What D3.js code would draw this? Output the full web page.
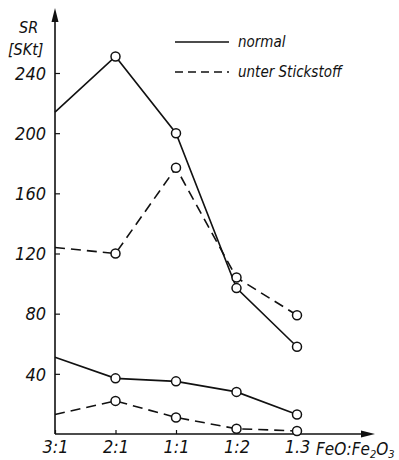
<!DOCTYPE html>
<html>
<head>
<meta charset="utf-8">
<script src="https://cdn.jsdelivr.net/npm/d3@7/dist/d3.min.js"></script>
<style>
  body { margin: 0; background: #fff; }
  text { font-family: "DejaVu Sans Condensed", "DejaVu Sans", sans-serif; font-style: italic; fill: #111; }
</style>
</head>
<body>
<svg id="chart" width="399" height="460"></svg>
<script>
// FeO:Fe2O3 ratios
var ratios = ["3:1", "2:1", "1:1", "1:2", "1:3"]
var ratioLabels = ["3:1", "2:1", "1:1", "1:2", "1.3"]

// SR values in SKt
var normalHigh = [214, 251, 200, 97, 58]
var nitrogenHigh = [124, 120, 177, 104, 79]
var normalLow = [51, 37, 35, 28, 13]
var nitrogenLow = [13, 22, 11, 3.5, 2]

var yTicks = [40, 80, 120, 160, 200, 240]

var svg = d3.select('#chart')

var x = d3.scalePoint()
    .domain(ratios)
    .range([55, 297])

var y = d3.scaleLinear()
    .domain([0, 240])
    .range([434, 73])

var ink = "#111"

// axes
var yAxis = svg.append("g")
    .attr("transform", "translate(55,0)")
    .call(d3.axisLeft(y).tickValues(yTicks).tickSize(-5).tickPadding(9))
yAxis.select(".domain").remove()
yAxis.selectAll("line").attr("stroke", ink).attr("stroke-width", 1.2)
yAxis.selectAll("text").attr("font-size", 18).attr("font-family", null).attr("dy", "0.35em")

var xAxis = svg.append("g")
    .attr("transform", "translate(0,434)")
    .call(d3.axisBottom(x).tickSize(-4).tickPadding(6).tickFormat(function(d, i) { return ratioLabels[i] }))
xAxis.select(".domain").remove()
xAxis.selectAll("line").attr("stroke", ink).attr("stroke-width", 1.2)
xAxis.selectAll("text").attr("font-size", 18).attr("font-family", null)

// axis lines with arrows
svg.append("line").attr("x1", 55).attr("x2", 55).attr("y1", 434).attr("y2", 18)
    .attr("stroke", ink).attr("stroke-width", 1.6)
svg.append("path").attr("d", "M55,8 L51.5,22 L58.5,22 Z").attr("fill", ink)
svg.append("line").attr("x1", 55).attr("x2", 366).attr("y1", 434).attr("y2", 434)
    .attr("stroke", ink).attr("stroke-width", 1.6)
svg.append("path").attr("d", "M375,434 L361,430.5 L361,437.5 Z").attr("fill", ink)

var xTitle = svg.append("text").attr("x", 316).attr("y", 455).attr("font-size", 17)
xTitle.append("tspan").text("FeO:Fe")
xTitle.append("tspan").attr("font-size", 11).attr("dy", 3).text("2")
xTitle.append("tspan").attr("dy", -3).text("O")
xTitle.append("tspan").attr("font-size", 11).attr("dy", 3).text("3")

svg.append("text").attr("x", 19).attr("y", 33).attr("font-size", 16).text("SR")
svg.append("text").attr("x", 8).attr("y", 55).attr("font-size", 16).text("[SKt]")

// series
var line = d3.line()
    .x(function(d, i) { return x(ratios[i]) })
    .y(function(d) { return y(d) })

var series = [
    { values: normalHigh, dash: null },
    { values: nitrogenHigh, dash: "10,6" },
    { values: normalLow, dash: null },
    { values: nitrogenLow, dash: "10,6" }
]

series.forEach(function(s) {
    svg.append("path")
        .attr("d", line(s.values))
        .attr("fill", "none")
        .attr("stroke", ink)
        .attr("stroke-width", 1.6)
        .attr("stroke-dasharray", s.dash)

    svg.append("g").selectAll("circle")
        .data(s.values.slice(1))
        .enter().append("circle")
          .attr("cx", function(d, i) { return x(ratios[i + 1]) })
          .attr("cy", function(d) { return y(d) })
          .attr("r", 4.5)
          .attr("fill", "#fff")
          .attr("stroke", ink)
          .attr("stroke-width", 1.5)
})

// legend
var legend = [
    { label: "normal", dash: null, yy: 42 },
    { label: "unter Stickstoff", dash: "8,5", yy: 72 }
]
legend.forEach(function(l) {
    svg.append("line").attr("x1", 175).attr("x2", 229).attr("y1", l.yy).attr("y2", l.yy)
        .attr("stroke", ink).attr("stroke-width", 1.4).attr("stroke-dasharray", l.dash)
    svg.append("text").attr("x", 238).attr("y", l.yy + 5).attr("font-size", 15).text(l.label)
})
</script>
</body>
</html>
